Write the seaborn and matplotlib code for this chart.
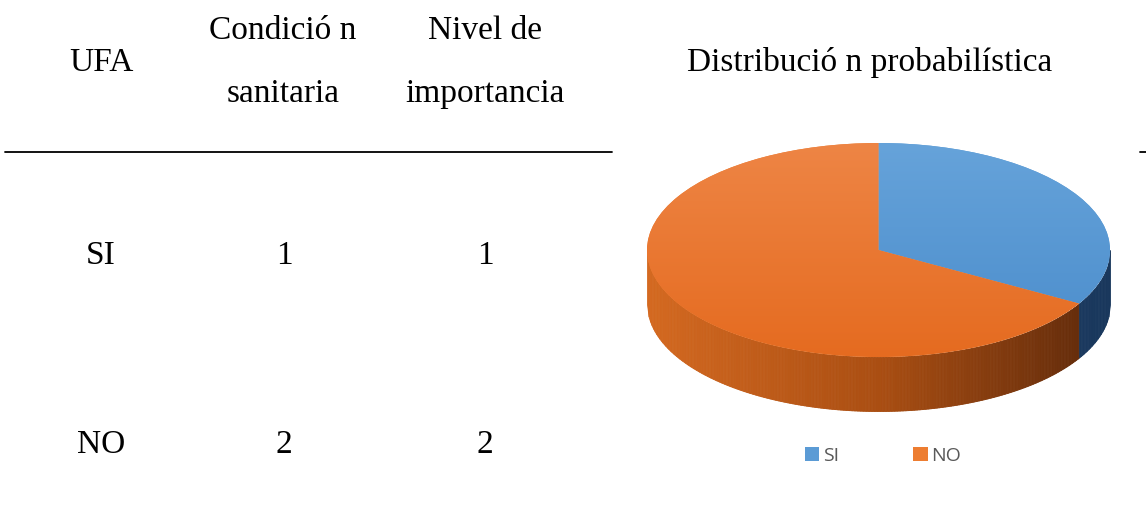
import numpy as np
import matplotlib
matplotlib.use("Agg")
import matplotlib.pyplot as plt
from matplotlib.patches import Patch
from matplotlib.lines import Line2D
from matplotlib.colors import LinearSegmentedColormap
import seaborn as sns

# ---- data ----
ufa = ["SI", "NO"]
condicion = [1, 2]
nivel = [1, 2]
header_ufa = "UFA"
header_cond = ["Condició n", "sanitaria"]
header_nivel = ["Nivel de", "importancia"]
pie_labels = ["SI", "NO"]
pie_values = [1, 2]
pie_title = "Distribució n probabilística"

sns.set_theme(style="white")
plt.rcParams["font.family"] = ["Liberation Serif", "DejaVu Serif"]
plt.rcParams["text.color"] = "black"

W, H = 1146, 528
fig = plt.figure(figsize=(W / 100, H / 100), dpi=100)
fig.patch.set_facecolor("white")


def fx(px):
    return px / W


def fy(py):
    return 1 - py / H


FS = 24
kw = dict(ha="center", va="baseline", fontsize=FS, color="black")
# ---- table (left) ----
fig.text(fx(101), fy(71), header_ufa, **kw)
for xc, (top, bot) in [(283, header_cond), (485, header_nivel)]:
    fig.text(fx(xc), fy(39), top, **kw)
    fig.text(fx(xc), fy(102), bot, **kw)
fig.add_artist(Line2D([fx(5), fx(612)], [fy(152), fy(152)], color="black", lw=1.3))
fig.add_artist(Line2D([fx(1140), fx(1146)], [fy(152), fy(152)], color="black", lw=1.3))

row_base = [264, 453]
for lab, c, n, yy in zip(ufa, condicion, nivel, row_base):
    fig.text(fx(101), fy(yy), lab, **kw)
    fig.text(fx(284), fy(yy), str(c), **kw)
    fig.text(fx(485), fy(yy), str(n), **kw)

fig.text(fx(870), fy(71), pie_title, **kw)

# ---- 3D-looking pie (right) ----
left_px, right_px, top_px, bot_px = 647, 1110, 143, 411
ax = fig.add_axes([fx(left_px), fy(bot_px), (right_px - left_px) / W, (bot_px - top_px) / H])
ry_px = 107.0
h = 54.0 / ry_px
y_bottom = 1 - (bot_px - top_px) / ry_px

blue = "#5B9BD5"
orange = "#ED7D31"
total = sum(pie_values)
frac_si = pie_values[0] / total
end_angle = 90 - 360 * frac_si
x_bound = np.cos(np.deg2rad(end_angle))

xs = np.linspace(-1, 1, 301)
c_left = np.array([212, 105, 32]) / 255
c_mid = np.array([170, 78, 18]) / 255
c_right = np.array([92, 40, 10]) / 255
b_left = np.array([38, 80, 125]) / 255
b_right = np.array([25, 55, 92]) / 255
for i in range(len(xs) - 1):
    x0, x1 = xs[i], xs[i + 1]
    xm = 0.5 * (x0 + x1)
    seg = np.array([x0, x1])
    top = -np.sqrt(np.clip(1 - seg ** 2, 0, None))
    t = (xm + 1) / 2
    if xm > x_bound:
        col = b_left * (1 - t) + b_right * t
    else:
        if t < 0.5:
            s = t / 0.5
            col = c_left * (1 - s) + c_mid * s
        else:
            s = (t - 0.5) / 0.5
            col = c_mid * (1 - s) + c_right * s
    ax.fill_between(seg, top - h, top, color=col, lw=0.6, edgecolor=col)

wedges, _ = ax.pie(pie_values, colors=[blue, orange], startangle=90, counterclock=False,
                   radius=1, wedgeprops=dict(linewidth=0))

# soft vertical shading on the top face
grad = np.linspace(0, 1, 256).reshape(-1, 1)
cmaps = [LinearSegmentedColormap.from_list("b", ["#4A8CCB", "#66A3DA"]),
         LinearSegmentedColormap.from_list("o", ["#E56B20", "#EE8545"])]
for wdg, cm in zip(wedges, cmaps):
    im = ax.imshow(grad, cmap=cm, extent=(-1, 1, -1, 1), origin="lower",
                   aspect="auto", zorder=wdg.get_zorder() + 0.1)
    im.set_clip_path(wdg)

ax.set_aspect("auto")
ax.set_xlim(-1, 1)
ax.set_ylim(y_bottom, 1)
ax.axis("off")

# legend
handles = [Patch(facecolor=blue, edgecolor="none"), Patch(facecolor=orange, edgecolor="none")]
leg = fig.legend(handles, pie_labels, loc="center", bbox_to_anchor=(fx(883), fy(456)), ncol=2,
                 frameon=False, handlelength=0.75, handleheight=0.75, handletextpad=0.2,
                 columnspacing=3.8, prop={"family": "Open Sans", "size": 14})
for t in leg.get_texts():
    t.set_color("#595959")

fig.savefig("out.png", dpi=100, facecolor="white")
